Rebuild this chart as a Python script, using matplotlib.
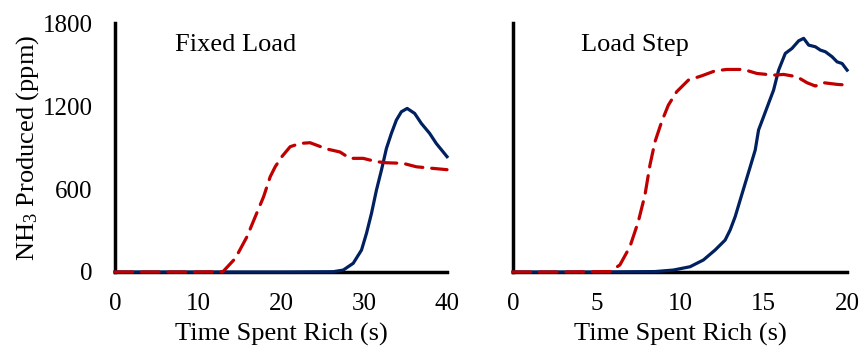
import matplotlib
matplotlib.use("Agg")
import matplotlib.pyplot as plt

plt.rcParams["font.family"] = ["Liberation Serif", "DejaVu Serif"]
plt.rcParams["mathtext.fontset"] = "custom"
plt.rcParams["mathtext.rm"] = "Liberation Serif"
plt.rcParams["mathtext.it"] = "Liberation Serif:italic"

# Fixed load panel (time in s, NH3 in ppm)
fixed_red_t = [0, 5, 10, 13.0, 14.5, 15.9, 16.9, 17.9, 18.7, 19.3, 20.1, 21.1, 22.3,
               23.5, 25.5, 27.1, 28.3, 29.9, 31.5, 32.7, 34.7, 36.3, 37.5, 40]
fixed_red_v = [0, 0, 0, 2, 99, 255, 400, 544, 689, 761, 834, 906, 930,
               935, 890, 868, 822, 822, 798, 790, 786, 761, 754, 740]
fixed_blue_t = [0, 10, 20, 26.3, 27.5, 28.7, 29.7, 30.3, 30.9, 31.5, 32.1, 32.7,
                33.3, 33.9, 34.5, 35.2, 36.1, 36.9, 37.9, 38.7, 40]
fixed_blue_v = [0, 0, 0, 2, 14, 63, 159, 280, 424, 593, 737, 894,
                1003, 1099, 1159, 1183, 1147, 1075, 1003, 930, 834]

# Load step panel
step_red_t = [0, 3, 5.8, 6.4, 7.0, 7.5, 7.9, 8.2, 8.5, 8.9, 9.3, 9.8, 10.5,
              11.3, 12.1, 12.8, 13.8, 14.6, 15.6, 16.2, 17.0, 17.6, 18.1, 18.6, 19.4, 20]
step_red_v = [0, 0, 3, 51, 183, 364, 557, 774, 942, 1087, 1207, 1304, 1388,
              1419, 1455, 1465, 1465, 1436, 1424, 1429, 1412, 1369, 1345, 1369, 1357, 1352]
step_blue_t = [0, 5, 8.5, 9.6, 10.6, 11.4, 12.1, 12.7, 13.0, 13.3, 13.6, 13.9,
               14.2, 14.5, 14.7, 15.0, 15.3, 15.6, 15.9, 16.3, 16.7, 17.1, 17.4,
               17.7, 18.1, 18.4, 18.7, 19.1, 19.4, 19.7, 20]
step_blue_v = [0, 0, 3, 14, 38, 87, 159, 231, 304, 400, 521, 641,
               761, 882, 1027, 1123, 1220, 1316, 1460, 1581, 1617, 1672, 1690,
               1641, 1629, 1605, 1593, 1557, 1520, 1508, 1460]

panel_titles = ["Fixed Load", "Load Step"]
yticks = [0, 600, 1200, 1800]

RED = "#C00000"
BLUE = "#002060"

fig = plt.figure(figsize=(8.6, 3.5), dpi=100)
ax1 = fig.add_axes([0.1337, 0.2229, 0.3861, 0.711])
ax2 = fig.add_axes([0.5965, 0.2229, 0.3885, 0.711])

panels = [
    (ax1, fixed_red_t, fixed_red_v, fixed_blue_t, fixed_blue_v, 40, [0, 10, 20, 30, 40], 7.2),
    (ax2, step_red_t, step_red_v, step_blue_t, step_blue_v, 20, [0, 5, 10, 15, 20], 4.1),
]

for i, (ax, rt, rv, bt, bv, xmax, xt, tx) in enumerate(panels):
    ax.plot(bt, bv, color=BLUE, lw=2.3, solid_joinstyle="round", clip_on=False)
    ax.plot(rt, rv, color=RED, lw=2.3, dashes=(5.5, 2.8), dash_capstyle="round",
            clip_on=False)
    ax.set_xlim(0, xmax)
    ax.set_ylim(0, 1800)
    ax.set_xticks(xt)
    ax.set_yticks(yticks)
    for s in ["top", "right"]:
        ax.spines[s].set_visible(False)
    for s in ["left", "bottom"]:
        ax.spines[s].set_linewidth(2.5)
        ax.spines[s].set_zorder(1)
    ax.tick_params(length=0, labelsize=18)
    ax.tick_params(axis="x", pad=15)
    ax.tick_params(axis="y", pad=16)
    ax.set_xlabel("Time Spent Rich (s)", fontsize=19, labelpad=6)
    ax.text(tx, 1640, panel_titles[i], fontsize=19, va="center", ha="left")
    ax.margins(0)

ax1.set_ylabel("NH$_3$ Produced (ppm)", fontsize=19, labelpad=1)
ax2.set_yticklabels([])

fig.savefig("out.png", dpi=100)
